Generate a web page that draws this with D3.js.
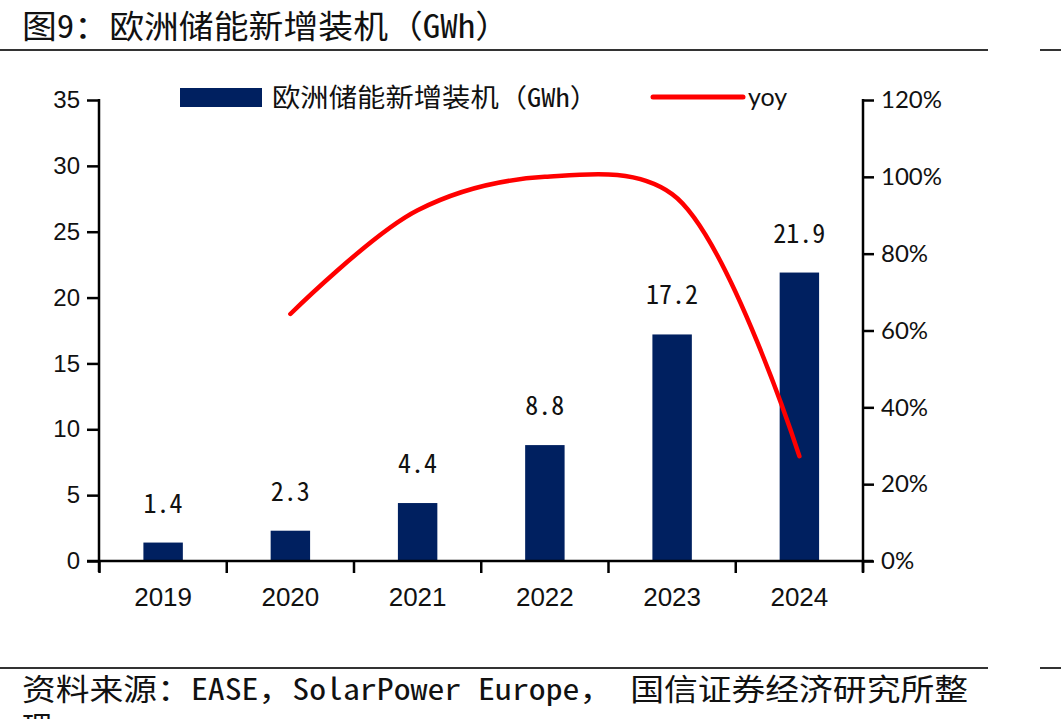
<!DOCTYPE html>
<html>
<head>
<meta charset="utf-8">
<script src="https://cdn.jsdelivr.net/npm/d3@7/dist/d3.min.js"></script>
<style>
  html, body { margin: 0; padding: 0; background: #fff; }
  svg { display: block; }
</style>
</head>
<body>
<svg id="chart" width="1061" height="719"></svg>
<script>
const title = "图9：欧洲储能新增装机（GWh）";
const sourceLine1 = "资料来源：EASE，SolarPower Europe， 国信证券经济研究所整";
const sourceLine2 = "理";
const years = ["2019", "2020", "2021", "2022", "2023", "2024"];
const installs = [1.4, 2.3, 4.4, 8.8, 17.2, 21.9];
const installLabels = ["1.4", "2.3", "4.4", "8.8", "17.2", "21.9"];
const yoyYears = ["2020", "2021", "2022", "2023", "2024"];
const yoy = [0.643, 0.913, 1.0, 0.955, 0.273];
const leftTicks = [0, 5, 10, 15, 20, 25, 30, 35];
const rightTicks = [0, 0.2, 0.4, 0.6, 0.8, 1.0, 1.2];
const legendLabels = ["欧洲储能新增装机（GWh）", "yoy"];

const svg = d3.select("#chart");
const cjkMono = "'Noto Sans Mono CJK SC', 'Noto Sans CJK SC', sans-serif";

const x = d3.scaleBand().domain(years).range([99.5, 863]).padding(0);
const yL = d3.scaleLinear().domain([0, 35]).range([561, 100]);
const yR = d3.scaleLinear().domain([0, 1.2]).range([561, 100]);

// Title
svg.append("text").attr("x", 22).attr("y", 38)
  .attr("font-family", cjkMono).attr("font-size", 32).attr("fill", "#111")
  .attr("textLength", 488).attr("lengthAdjust", "spacingAndGlyphs")
  .text(title);
// Rules
[[50, 0, 988], [50, 1040, 1061], [668, 0, 988], [668, 1040, 1061]].forEach(([yy, x1, x2]) => {
  svg.append("line").attr("x1", x1).attr("x2", x2).attr("y1", yy).attr("y2", yy)
    .attr("stroke", "#333").attr("stroke-width", 2);
});
// Source
svg.append("text").attr("x", 22).attr("y", 700)
  .attr("font-family", cjkMono).attr("font-size", 30).attr("fill", "#111")
  .attr("textLength", 946).attr("lengthAdjust", "spacingAndGlyphs")
  .text(sourceLine1);
svg.append("text").attr("x", 22).attr("y", 738)
  .attr("font-family", cjkMono).attr("font-size", 30).attr("fill", "#111")
  .text(sourceLine2);

// Bars
const barW = x.bandwidth() * 0.31;
svg.append("g").selectAll("rect").data(years).join("rect")
  .attr("x", (d) => x(d) + x.bandwidth() / 2 - barW / 2)
  .attr("y", (d, i) => yL(installs[i]))
  .attr("width", barW)
  .attr("height", (d, i) => yL(0) - yL(installs[i]))
  .attr("fill", "#002060");

// Data labels
svg.append("g").selectAll("text").data(years).join("text")
  .attr("x", (d) => x(d) + x.bandwidth() / 2)
  .attr("y", (d, i) => yL(installs[i]) - 30)
  .attr("text-anchor", "middle")
  .attr("font-family", cjkMono).attr("font-size", 26).attr("fill", "#111")
  .text((d, i) => installLabels[i]);

// Line
const line = d3.line()
  .x((d, i) => x(yoyYears[i]) + x.bandwidth() / 2)
  .y((d) => yR(d))
  .curve(d3.curveCatmullRom.alpha(0.5));
svg.append("path").datum(yoy).attr("d", line)
  .attr("fill", "none").attr("stroke", "#FF0000").attr("stroke-width", 4.5)
  .attr("stroke-linecap", "round");

// Left axis
const gL = svg.append("g").attr("transform", "translate(99,0)")
  .call(d3.axisLeft(yL).tickValues(leftTicks).tickSize(12).tickPadding(7).tickFormat(d3.format("d")));
gL.select(".domain").remove();
gL.selectAll(".tick line").attr("stroke", "#000").attr("stroke-width", 2.5);
gL.selectAll(".tick text").attr("font-family", "'Liberation Sans', Arial, sans-serif").attr("font-size", 24).attr("fill", "#111");
svg.append("line").attr("x1", 99).attr("x2", 99).attr("y1", 99).attr("y2", 572).attr("stroke", "#000").attr("stroke-width", 2.5);

// Right axis
const gR = svg.append("g").attr("transform", "translate(863,0)")
  .call(d3.axisRight(yR).tickValues(rightTicks).tickSize(11).tickPadding(7).tickFormat(d3.format(".0%")));
gR.select(".domain").remove();
gR.selectAll(".tick line").attr("stroke", "#000").attr("stroke-width", 2.5);
gR.selectAll(".tick text").attr("font-family", "Lato, 'Open Sans', sans-serif").attr("font-size", 24).attr("fill", "#111");
svg.append("line").attr("x1", 863).attr("x2", 863).attr("y1", 99).attr("y2", 572).attr("stroke", "#000").attr("stroke-width", 2.5);

// X axis
svg.append("line").attr("x1", 87).attr("x2", 873).attr("y1", 561).attr("y2", 561).attr("stroke", "#000").attr("stroke-width", 2.5);
const boundaries = years.map((d) => x(d)).concat([x(years[years.length - 1]) + x.bandwidth()]);
svg.append("g").selectAll("line").data(boundaries).join("line")
  .attr("x1", (d) => d).attr("x2", (d) => d).attr("y1", 561).attr("y2", 573)
  .attr("stroke", "#000").attr("stroke-width", 2.5);
const gX = svg.append("g").attr("transform", "translate(0,561)")
  .call(d3.axisBottom(x).tickSize(0).tickPadding(0));
gX.select(".domain").remove();
gX.selectAll(".tick text").attr("y", 45).attr("dy", null)
  .attr("font-family", "'Liberation Sans Narrow', 'Arial Narrow', 'Liberation Sans', sans-serif")
  .attr("font-size", 26).attr("fill", "#111");

// Legend
svg.append("rect").attr("x", 180).attr("y", 88).attr("width", 82).attr("height", 19).attr("fill", "#002060");
svg.append("text").attr("x", 272).attr("y", 107)
  .attr("font-family", cjkMono).attr("font-size", 26).attr("fill", "#111")
  .attr("textLength", 326).attr("lengthAdjust", "spacingAndGlyphs")
  .text(legendLabels[0]);
svg.append("line").attr("x1", 653).attr("x2", 743).attr("y1", 97).attr("y2", 97)
  .attr("stroke", "#FF0000").attr("stroke-width", 5).attr("stroke-linecap", "round");
svg.append("text").attr("x", 748).attr("y", 106)
  .attr("font-family", "Lato, 'Open Sans', sans-serif").attr("font-size", 25).attr("fill", "#111")
  .text(legendLabels[1]);
</script>
</body>
</html>
